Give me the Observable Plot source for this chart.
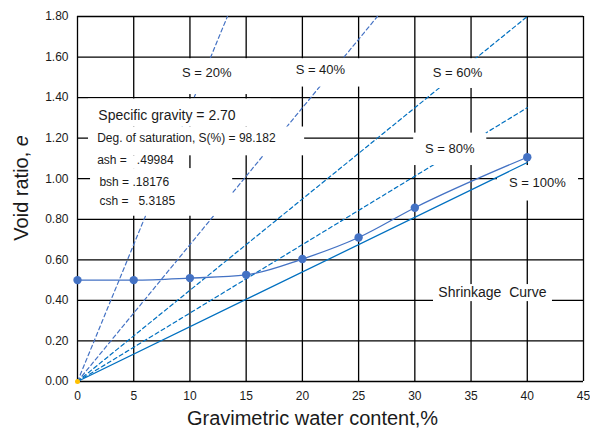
<!DOCTYPE html>
<html>
<head>
<meta charset="utf-8">
<script src="https://cdn.jsdelivr.net/npm/d3@7"></script>
<script src="https://cdn.jsdelivr.net/npm/@observablehq/plot@0.6"></script>
<style>
  html, body { margin: 0; padding: 0; background: #fff; }
  svg text { white-space: pre; }
</style>
</head>
<body>
<div id="chart"></div>
<script>
// ---------- data ----------
const xTicks = [0, 5, 10, 15, 20, 25, 30, 35, 40, 45];
const yTicks = [0, 0.2, 0.4, 0.6, 0.8, 1.0, 1.2, 1.4, 1.6, 1.8];

// shrinkage curve (measured points)
const waterContent = [0, 5, 10, 15, 20, 25, 30, 40];
const voidRatio = [0.50, 0.50, 0.51, 0.526, 0.604, 0.71, 0.857, 1.106];

// degree-of-saturation lines (start at origin, end points)
const satNames = ["S = 20%", "S = 40%", "S = 60%", "S = 80%", "S = 100%"];
const satEndW = [13.33, 26.67, 40, 40, 40];
const satEndE = [1.8, 1.8, 1.8, 1.35, 1.08];

// info text
const infoTexts = ["Specific gravity = 2.70", "Deg. of saturation, S(%) = 98.182", "ash =   .49984", "bsh = .18176", "csh =   5.3185"];
const curveLabel = "Shrinkage  Curve";
const xTitle = "Gravimetric water content,%";
const yTitle = "Void ratio, e";

// ---------- layout (annotation placement, data units) ----------
const satLabelPos = [[11.5, 1.52], [21.6, 1.535], [33.8, 1.52], [33.1, 1.145], [40.9, 0.98]];
const infoPos = [[1.85, 1.312], [1.75, 1.198], [1.75, 1.092], [1.95, 0.983], [1.95, 0.888]];
const infoSize = [14, 12, 12, 12, 12];
const curveLabelPos = [36.9, 0.44];
const boxes = [
  [5.6, 16.7, 1.592, 1.415],   // S=20%
  [18.5, 28.7, 1.592, 1.452],  // S=40%
  [30.95, 39.4, 1.592, 1.445], // S=60%
  [29.9, 36.4, 1.225, 1.065],  // S=80%
  [37.35, 44.56, 1.065, 0.89], // S=100%
  [31.66, 42.24, 0.478, 0.394],// Shrinkage Curve
  [0.98, 17.2, 1.393, 1.255],  // Specific gravity
  [0.98, 20.2, 1.255, 1.113],  // Deg. of saturation
  [0.71, 9.87, 1.113, 1.05],   // ash
  [1.16, 13.8, 1.05, 0.815]    // bsh / csh
];

// ---------- build tables ----------
const curve = waterContent.map((w, i) => ({w, e: voidRatio[i]}));
const satLines = satNames.flatMap((s, i) => [{s, w: 0, e: 0}, {s, w: satEndW[i], e: satEndE[i]}]);
const satLabels = satNames.map((s, i) => ({s, x: satLabelPos[i][0], y: satLabelPos[i][1]}));
const info = infoTexts.map((t, i) => ({t, x: infoPos[i][0], y: infoPos[i][1], size: infoSize[i]}));
const boxRows = boxes.map(b => ({x1: b[0], x2: b[1], y1: b[2], y2: b[3]}));

const font = "'Liberation Sans', Arial, Helvetica, sans-serif";
const light = "#4472c4", deep = "#0070c0";

const chart = Plot.plot({
  width: 590,
  height: 429,
  marginLeft: 77,
  marginRight: 7,
  marginTop: 16,
  marginBottom: 48,
  style: {fontFamily: font, background: "#fff", color: "#1a1a1a"},
  x: {domain: [0, 45]},
  y: {domain: [0, 1.8]},
  marks: [
    Plot.ruleX(xTicks, {stroke: "#000", strokeWidth: 1.3}),
    Plot.ruleY(yTicks, {stroke: "#000", strokeWidth: 1.3}),
    Plot.line(satLines.filter(d => d.s === "S = 20%" || d.s === "S = 40%"), {x: "w", y: "e", z: "s", stroke: light, strokeWidth: 1.2, strokeDasharray: "4,3"}),
    Plot.line(satLines.filter(d => d.s === "S = 60%" || d.s === "S = 80%"), {x: "w", y: "e", z: "s", stroke: deep, strokeWidth: 1.2, strokeDasharray: "4,3"}),
    Plot.rect(boxRows, {x1: "x1", x2: "x2", y1: "y1", y2: "y2", fill: "#fff"}),
    Plot.line(satLines.filter(d => d.s === "S = 100%"), {x: "w", y: "e", stroke: deep, strokeWidth: 1.3}),
    Plot.line(curve, {x: "w", y: "e", curve: "monotone-x", stroke: light, strokeWidth: 1.3}),
    Plot.dot(curve, {x: "w", y: "e", r: 4.2, fill: light, stroke: null}),
    Plot.dot([{w: 0, e: 0}], {x: "w", y: "e", r: 2.5, fill: "#ffc000", stroke: null}),
    Plot.text(satLabels, {x: "x", y: "y", text: "s", fontSize: 13, fill: "#1a1a1a"}),
    Plot.text(info, {x: "x", y: "y", text: "t", fontSize: "size", textAnchor: "start", fill: "#1a1a1a"}),
    Plot.text([curveLabel], {x: [curveLabelPos[0]], y: [curveLabelPos[1]], text: d => d, fontSize: 14, fill: "#1a1a1a"}),
    Plot.axisX({ticks: xTicks, tickSize: 0, tickPadding: 10, fontSize: 12, label: null}),
    Plot.axisY({ticks: yTicks, tickSize: 0, tickPadding: 9, fontSize: 12, tickFormat: d3.format(".2f"), label: null}),
    Plot.text([xTitle], {x: [20.9], frameAnchor: "bottom", dy: 37, lineAnchor: "middle", text: d => d, fontSize: 20, fill: "#1a1a1a"}),
    Plot.text([yTitle], {y: [0.955], frameAnchor: "left", dx: -56, rotate: -90, textAnchor: "middle", lineAnchor: "middle", text: d => d, fontSize: 20, fill: "#1a1a1a"})
  ]
});

document.getElementById("chart").appendChild(chart);

// italic "e" in the y-axis title
d3.select(chart).selectAll("text").each(function() {
  if (this.textContent === yTitle) {
    const t = d3.select(this);
    t.text("Void ratio, ");
    t.append("tspan").attr("font-style", "italic").text("e");
  }
});
</script>
</body>
</html>
